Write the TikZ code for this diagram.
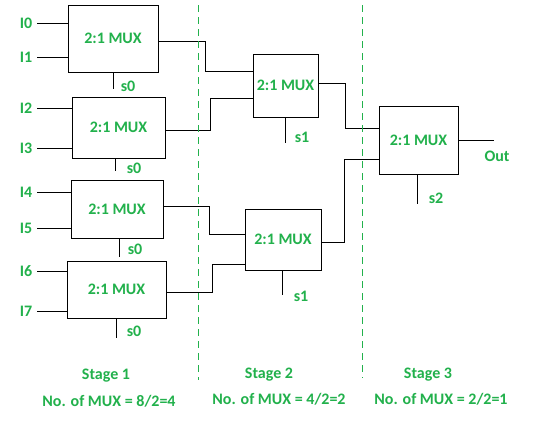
\documentclass[tikz,border=0pt]{standalone}
\usepackage{fontspec}
\setmainfont{Carlito}
\usepackage{tikz}
\usepackage{xcolor}
\usetikzlibrary{calc}

\definecolor{muxgreen}{RGB}{34,177,76}
\tikzset{
    muxbox/.style={draw,line width=1pt,inner sep=0pt,text=muxgreen,font=\bfseries\fontsize{16}{19}\selectfont},
    lbl/.style={text=muxgreen,font=\bfseries\fontsize{16}{19}\selectfont,inner sep=2pt},
    wire/.style={line width=1pt},
    stageline/.style={muxgreen,line width=1pt,dash pattern=on 7pt off 5pt}
}

\begin{document}
\begin{tikzpicture}[x=1pt,y=1pt]
        \fill[white] (0,0) rectangle (541,-437);
        \useasboundingbox (0,0) rectangle (541,-437);
        \node[muxbox,minimum width=90pt,minimum height=67pt] (muxa) at (113,-38.5) {2:1 MUX};
        \node[muxbox,minimum width=93pt,minimum height=61pt] (muxb) at (118.5,-127.5) {2:1 MUX};
        \node[muxbox,minimum width=92pt,minimum height=58pt] (muxc) at (117,-209) {2:1 MUX};
        \node[muxbox,minimum width=99pt,minimum height=57pt] (muxd) at (116.5,-289.5) {2:1 MUX};
        \node[muxbox,minimum width=65pt,minimum height=63pt] (muxe) at (285.5,-85.5) {2:1 MUX};
        \node[muxbox,minimum width=76pt,minimum height=61pt] (muxf) at (283,-239.5) {2:1 MUX};
        \node[muxbox,minimum width=79pt,minimum height=68pt] (muxg) at (418.5,-140) {2:1 MUX};
        \foreach \n/\y/\m in {0/23/muxa,1/57/muxa,2/108/muxb,3/148/muxb,4/192/muxc,5/228/muxc,6/271/muxd,7/311/muxd}{
            \node[lbl,inner xsep=5pt] (in\n) at (26,-\y) {I\n};
            \draw[wire] (in\n.east) -- (in\n.east -| \m.west);
        }
        \foreach \m/\x/\y/\s/\lx/\ly in {muxa/113/89/0/128/86,muxb/115/171/0/134/168,muxc/119/257/0/135/249,muxd/116/338/0/134/331,muxe/285/143/1/302/137,muxf/282/295/1/301/296,muxg/417/204/2/436/198}{
            \node[lbl] (sel\m) at (\lx,-\ly) {s\s};
            \draw[wire] (\m.south -| \x,0) -- (\x,-\y);
        }
        \draw[wire] ([yshift=-2.5pt]muxa.east) -- ++(47,0) |- ([yshift=14.5pt]muxe.west);
        \draw[wire] ([yshift=-2.5pt]muxb.east) -- ++(45,0) |- ([yshift=-12.5pt]muxe.west);
        \draw[wire] ([yshift=3pt]muxc.east) -- ++(46,0) |- ([yshift=5.5pt]muxf.west);
        \draw[wire] ([yshift=-2.5pt]muxd.east) -- ++(46,0) |- ([yshift=-24.5pt]muxf.west);
        \draw[wire] ([yshift=2.5pt]muxe.east) -- ++(27,0) |- ([yshift=12pt]muxg.west);
        \draw[wire] ([yshift=-2.5pt]muxf.east) -- ++(23,0) |- ([yshift=-19pt]muxg.west);
        \coordinate (outend) at (494,-140);
        \draw[wire] (muxg.east) -- (outend);
        \node[lbl] (outlbl) at (497,-156) {Out};
        \foreach \x/\y in {198/380,362/378}{
            \draw[stageline] (\x,-5) -- (\x,-\y);
        }
        \node[lbl] (stage1) at (106,-376) {Stage 1};
        \node[lbl] (count1) at (109,-401) {No. of MUX = 8/2=4};
        \node[lbl] (stage2) at (269,-375) {Stage 2};
        \node[lbl] (count2) at (279,-399) {No. of MUX = 4/2=2};
        \node[lbl] (stage3) at (428,-375) {Stage 3};
        \node[lbl] (count3) at (441,-399) {No. of MUX = 2/2=1};
    \end{tikzpicture}
\end{document}
